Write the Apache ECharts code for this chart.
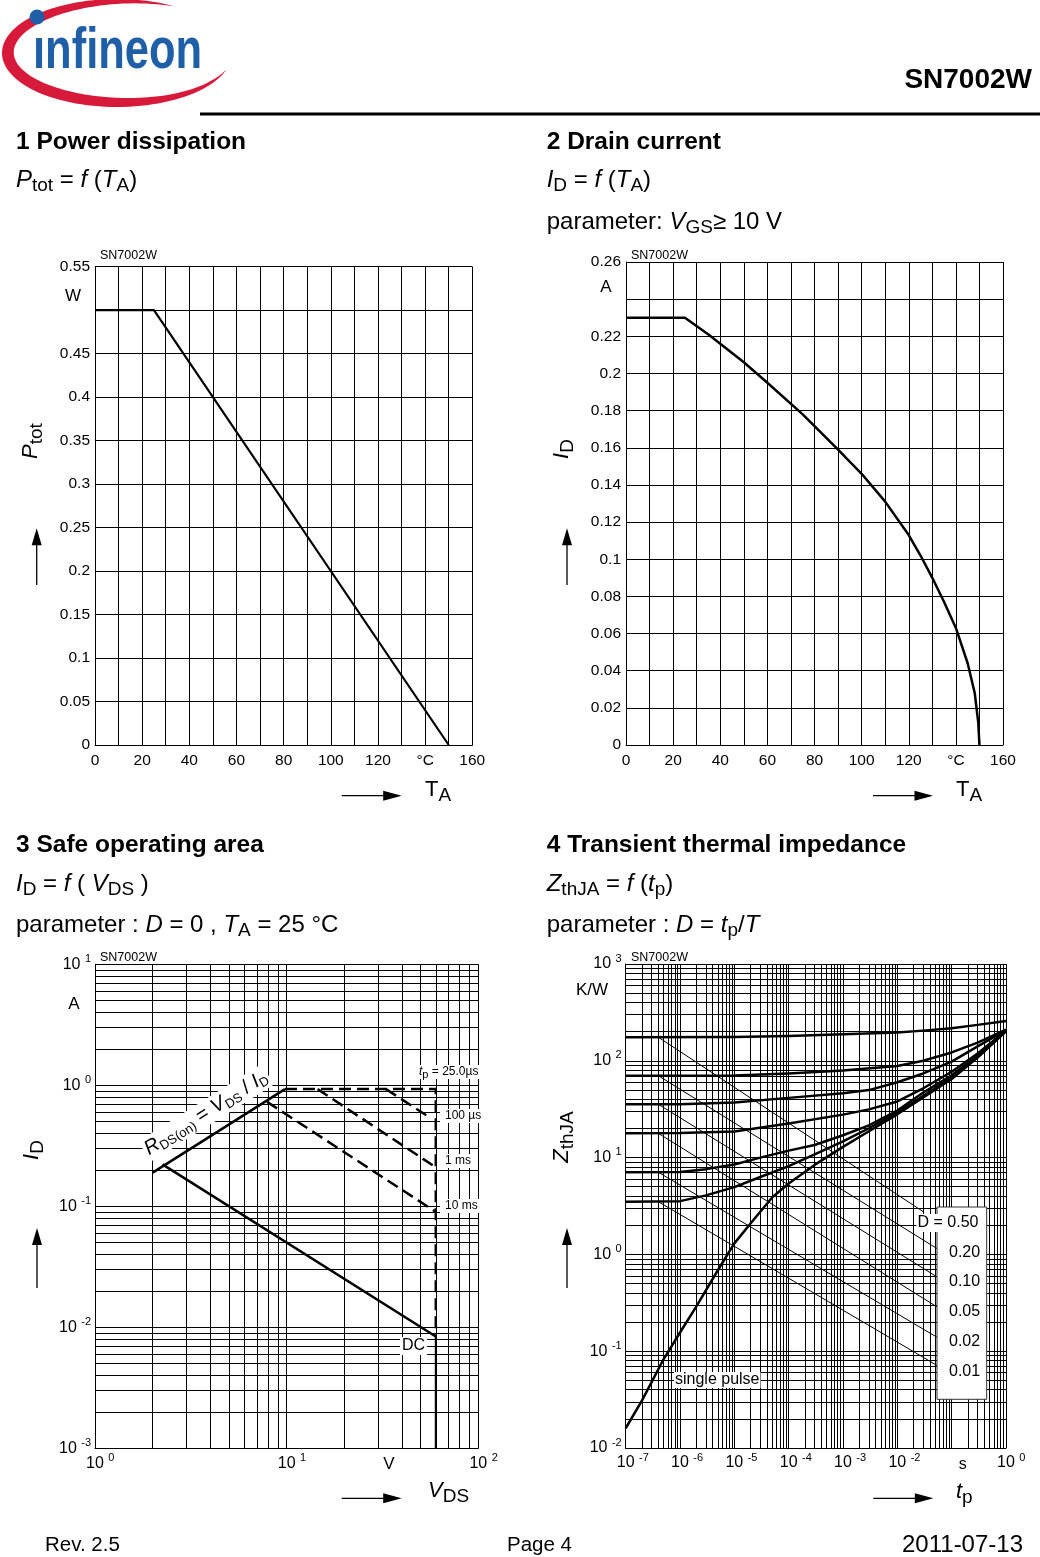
<!DOCTYPE html>
<html><head><meta charset="utf-8">
<script src="https://cdn.jsdelivr.net/npm/echarts@6/dist/echarts.min.js"></script>
<style>html,body{margin:0;padding:0;background:#fff}#c{width:1040px;height:1557px}</style>
</head><body><div id="c"></div>
<script>
const FF = '"Liberation Sans", Arial, Helvetica, sans-serif';

// ---------- data ----------
// 1 Power dissipation  [T_A (°C), P_tot (W)]
const ptotCurve = [[0, 0.5], [25, 0.5], [150, 0]];
// 2 Drain current  [T_A (°C), I_D (A)]
const idCurve = [[0, 0.23], [25, 0.23], [35, 0.221], [50, 0.206], [60, 0.195], [75, 0.178], [90, 0.159],
  [100, 0.146], [110, 0.131], [115, 0.122], [120, 0.113], [125, 0.102], [130, 0.09], [135, 0.077], [140, 0.063], [145, 0.044],
  [148, 0.028], [149.5, 0.012], [150, 0]];
// 3 Safe operating area  [V_DS (V), I_D (A)]
const soaRds = [[2, 0.19], [9.8, 0.93]];
const soaDC = [[2.25, 0.222], [60, 0.0084]];
const soaDCLimit = [[60, 0.0084], [60, 0.001]];
const soa25us = [[9.8, 0.93], [60, 0.93], [60, 0.0084]];
const soa100us = [[33, 0.93], [55, 0.55]];
const soa1ms = [[14.5, 0.93], [60, 0.21]];
const soa10ms = [[7.9, 0.73], [60, 0.09]];
// 4 Transient thermal impedance  [t_p (s), Z_thJA (K/W)]
const zthD050 = [[1e-7, 175], [1e-5, 176.5], [1e-4, 180.7], [1e-3, 187.5], [1e-2, 196], [3e-2, 205], [0.1, 217], [0.3, 235], [1, 258]];
const zthD020 = [[1e-7, 70], [1e-6, 70], [1e-5, 70.5], [1e-4, 73.8], [1e-3, 79.4], [1e-2, 88.5], [3e-2, 100], [0.1, 122], [0.3, 154], [1, 210]];
const zthD010 = [[1e-7, 35.5], [1e-6, 35.6], [1e-5, 37], [1e-4, 41.4], [1e-3, 46.3], [3e-3, 49.8], [1e-2, 60], [3e-2, 74], [0.1, 98], [0.3, 141], [1, 207]];
const zthD005 = [[1e-7, 17.8], [1e-6, 17.9], [1e-5, 18.6], [1e-4, 22.5], [1e-3, 27.8], [3e-3, 31.5], [1e-2, 38], [3e-2, 52], [0.1, 77], [0.3, 119], [1, 205]];
const zthD002 = [[1e-7, 7.05], [1e-6, 7.1], [3e-6, 7.6], [1e-5, 8.5], [3e-5, 10], [1e-4, 11.8], [3e-4, 13.5], [1e-3, 17], [3e-3, 21.5], [1e-2, 30.6], [3e-2, 47], [0.1, 71], [0.3, 113], [1, 204]];
const zthD001 = [[1e-7, 3.5], [1e-6, 3.55], [3e-6, 4.07], [1e-5, 4.95], [3e-5, 6.3], [1e-4, 8.15], [3e-4, 10.8], [1e-3, 14.7], [3e-3, 20.1], [1e-2, 29.2], [3e-2, 43.6], [0.1, 67.6], [0.3, 110], [1, 203]];
const zthSingle = [[1e-7, 0.016], [2e-7, 0.031], [5e-7, 0.083], [1e-6, 0.156], [2e-6, 0.29], [5e-6, 0.69], [1e-5, 1.3], [2e-5, 2.1], [5e-5, 3.9], [1e-4, 5.4], [3e-4, 8.4], [1e-3, 12.9], [3e-3, 18.7], [1e-2, 28], [3e-2, 41.7], [0.1, 65], [0.3, 108], [1, 202]];
// leader lines from the curves to the D labels
const leadD050 = [[4e-7, 175], [0.03, 2.76]];
const leadD020 = [[4e-7, 70], [0.066, 1.07]];
const leadD010 = [[4e-7, 35.5], [0.066, 0.545]];
const leadD005 = [[4e-7, 17.8], [0.066, 0.267]];
const leadD002 = [[4e-7, 7.05], [0.066, 0.13]];
const leadD001 = [[4e-7, 3.5], [0.066, 0.0666]];
const dLabels = ['D = 0.50', '0.20', '0.10', '0.05', '0.02', '0.01'];

// ---------- helpers ----------
const BLACK = '#000';
const lineSt = { color: BLACK, width: 1 };
function linAxis(gi, min, max, interval, minorSplit, fmt, extraLabel) {
  return {
    type: 'value', gridIndex: gi, min: min, max: max, interval: interval,
    axisLine: { show: true, onZero: false, lineStyle: lineSt },
    axisTick: { show: false },
    splitLine: { show: true, lineStyle: lineSt },
    minorTick: { show: false, splitNumber: minorSplit || 5 },
    minorSplitLine: { show: !!minorSplit, lineStyle: lineSt },
    axisLabel: Object.assign({ color: BLACK, fontSize: 15.5, fontFamily: FF, formatter: fmt }, extraLabel)
  };
}
const richLog = {
  b: { fontSize: 16, fontFamily: FF, color: BLACK, lineHeight: 22 },
  s: { fontSize: 11, fontFamily: FF, color: BLACK, lineHeight: 12, verticalAlign: 'top' },
  p1: { width: 10.6, fontSize: 16, lineHeight: 22 },
  p2: { width: 14.2, fontSize: 16, lineHeight: 22 },
  u: { fontSize: 16, fontFamily: FF, color: BLACK, lineHeight: 22, padding: [4, 0, 0, 22] }
};
function expOf(v) { return Math.round(Math.log10(v)); }
function logLabelX(v) {
  const e = expOf(v);
  return '{' + (String(e).length > 1 ? 'p2' : 'p1') + '| }{b|10 }{s|' + e + '}';
}
function logLabelXs(v) {
  const e = expOf(v);
  if (e === -1) return '{u|s}';
  return logLabelX(v);
}
function logLabelY(v) { return '{b|10 }{s|' + expOf(v) + '}'; }
function logAxis(gi, min, max, fmt) {
  return {
    type: 'log', logBase: 10, gridIndex: gi, min: min, max: max, splitNumber: 10,
    axisLine: { show: true, onZero: false, lineStyle: lineSt },
    axisTick: { show: false },
    splitLine: { show: true, lineStyle: lineSt },
    minorTick: { show: false, splitNumber: 9 },
    minorSplitLine: { show: true, lineStyle: lineSt },
    axisLabel: { formatter: fmt, rich: richLog, margin: 4 }
  };
}
function ser(xi, data, width, dash, z) {
  return {
    type: 'line', xAxisIndex: xi, yAxisIndex: xi, data: data, symbol: 'none', showSymbol: false,
    silent: true, animation: false, z: z || 5,
    lineStyle: { color: BLACK, width: width, type: dash || 'solid', join: 'round' }
  };
}
function dec2(v) { return String(+(+v).toFixed(2)); }

// ---------- graphic helpers ----------
function T(x, y, text, st, extra) {
  return Object.assign({
    type: 'text', x: x, y: y, z: 100, silent: true,
    style: Object.assign({ text: text, fill: BLACK, fontFamily: FF, fontSize: 16, align: 'left', verticalAlign: 'middle' }, st)
  }, extra || {});
}
const RT = {
  n: { fontSize: 24, fontFamily: FF, fill: BLACK, lineHeight: 28 },
  i: { fontSize: 24, fontFamily: FF, fill: BLACK, fontStyle: 'italic', lineHeight: 28 },
  s: { fontSize: 19, fontFamily: FF, fill: BLACK, lineHeight: 28, padding: [11, 0, 0, 0] }
};
const RA = {
  n: { fontSize: 22, fontFamily: FF, fill: BLACK, lineHeight: 26 },
  i: { fontSize: 22, fontFamily: FF, fill: BLACK, fontStyle: 'italic', lineHeight: 26 },
  s: { fontSize: 19, fontFamily: FF, fill: BLACK, lineHeight: 26, padding: [11, 0, 0, 0] }
};
const RS = {
  n: { fontSize: 12, fontFamily: FF, fill: BLACK, lineHeight: 14 },
  i: { fontSize: 12, fontFamily: FF, fill: BLACK, fontStyle: 'italic', lineHeight: 14 },
  s: { fontSize: 11, fontFamily: FF, fill: BLACK, lineHeight: 14, padding: [6, 0, 0, 0] }
};
const RR = {
  n: { fontSize: 20, fontFamily: FF, fill: BLACK, lineHeight: 24 },
  i: { fontSize: 20, fontFamily: FF, fill: BLACK, fontStyle: 'italic', lineHeight: 24 },
  s: { fontSize: 13, fontFamily: FF, fill: BLACK, lineHeight: 24, padding: [10, 0, 0, 0] }
};
function hArrow(x1, x2, y) {
  return [
    { type: 'line', z: 100, silent: true, shape: { x1: x1, y1: y, x2: x2 - 10, y2: y }, style: { stroke: BLACK, lineWidth: 1.3 } },
    { type: 'polygon', z: 100, silent: true, shape: { points: [[x2 - 18.5, y - 5], [x2, y], [x2 - 18.5, y + 5]] }, style: { fill: BLACK } }
  ];
}
function vArrow(x, y1, y2) { // y1 bottom, y2 tip
  return [
    { type: 'line', z: 100, silent: true, shape: { x1: x, y1: y1, x2: x, y2: y2 + 10 }, style: { stroke: BLACK, lineWidth: 1.3 } },
    { type: 'polygon', z: 100, silent: true, shape: { points: [[x - 5, y2 + 17], [x, y2], [x + 5, y2 + 17]] }, style: { fill: BLACK } }
  ];
}
// logo swoosh outline (crescent around the word mark)
function swoosh() {
  const cx = 117, cy = 53, rx = 115, ry = 54;
  const t0 = 60, t1 = 342, outer = [], inner = [];
  for (let a = t0; a <= t1; a += 3) {
    const t = a * Math.PI / 180;
    const w = 12 * Math.pow(Math.sin(Math.PI * (a - t0) / (t1 - t0)), 0.8);
    outer.push([cx + rx * Math.cos(t), cy - ry * Math.sin(t)]);
    inner.push([cx + (rx - w) * Math.cos(t), cy - (ry - w) * Math.sin(t)]);
  }
  return outer.concat(inner.reverse());
}

const graphics = [
  // logo
  { type: 'polygon', z: 90, silent: true, shape: { points: swoosh() }, style: { fill: '#d7193a' } },
  T(33, 52, 'ınfineon', { fill: '#1f5fa8', fontSize: 58, fontWeight: 'bold' }, { scaleX: 0.75 }),
  { type: 'circle', z: 101, silent: true, shape: { cx: 37, cy: 17, r: 7.5 }, style: { fill: '#1f5fa8' } },
  T(1032, 80, 'SN7002W', { fontSize: 28, fontWeight: 'bold', align: 'right' }),
  { type: 'line', z: 100, silent: true, shape: { x1: 200, y1: 114, x2: 1040, y2: 114 }, style: { stroke: BLACK, lineWidth: 3 } },

  // titles
  T(16, 142, '1 Power dissipation', { fontSize: 24.5, fontWeight: 'bold' }),
  T(16, 180, '{i|P}{s|tot}{n| = }{i|f}{n| (}{i|T}{s|A}{n|)}', { rich: RT }),
  T(546.7, 142, '2 Drain current', { fontSize: 24.5, fontWeight: 'bold' }),
  T(546.7, 180, '{i|I}{s|D}{n| = }{i|f}{n| (}{i|T}{s|A}{n|)}', { rich: RT }),
  T(546.7, 222, '{n|parameter: }{i|V}{s|GS}{n|≥ 10 V}', { rich: RT }),
  T(16, 845, '3 Safe operating area', { fontSize: 24.5, fontWeight: 'bold' }),
  T(16, 884, '{i|I}{s|D}{n| = }{i|f}{n| ( }{i|V}{s|DS}{n| )}', { rich: RT }),
  T(16, 925, '{n|parameter : }{i|D}{n| = 0 , }{i|T}{s|A}{n| = 25 °C}', { rich: RT }),
  T(546.7, 845, '4 Transient thermal impedance', { fontSize: 24.5, fontWeight: 'bold' }),
  T(546.7, 884, '{i|Z}{s|thJA}{n| = }{i|f}{n| (}{i|t}{s|p}{n|)}', { rich: RT }),
  T(546.7, 925, '{n|parameter : }{i|D}{n| = }{i|t}{s|p}{n|/}{i|T}', { rich: RT }),

  // small part labels
  T(100, 256, 'SN7002W', { fontSize: 12.5 }),
  T(631, 256, 'SN7002W', { fontSize: 12.5 }),
  T(100, 958, 'SN7002W', { fontSize: 12.5 }),
  T(631, 958, 'SN7002W', { fontSize: 12.5 }),

  // units
  T(73, 296.5, 'W', { fontSize: 17, align: 'center' }),
  T(606, 287, 'A', { fontSize: 17, align: 'center' }),
  T(74, 1004, 'A', { fontSize: 17, align: 'center' }),
  T(592, 990, 'K/W', { fontSize: 17, align: 'center' }),
  T(389, 1464, 'V', { fontSize: 17, align: 'center' }),

  // axis names
  T(425, 790, '{n|T}{s|A}', { rich: RA }),
  T(956, 790, '{n|T}{s|A}', { rich: RA }),
  T(428, 1491, '{i|V}{s|DS}', { rich: RA }),
  T(956, 1492, '{i|t}{s|p}', { rich: RA }),
  T(31, 441, '{i|P}{s|tot}', { rich: RA, align: 'center' }, { rotation: Math.PI / 2 }),
  T(562, 449, '{i|I}{s|D}', { rich: RA, align: 'center' }, { rotation: Math.PI / 2 }),
  T(32, 1150, '{i|I}{s|D}', { rich: RA, align: 'center' }, { rotation: Math.PI / 2 }),
  T(562, 1137, '{i|Z}{s|thJA}', { rich: RA, align: 'center' }, { rotation: Math.PI / 2 }),

  // SOA annotations
  T(418, 1072, '{i|t}{s|p}{n| = 25.0µs}', { rich: RS, backgroundColor: '#fff', padding: [0, 1] }),
  T(440, 1116, '100 µs', { fontSize: 12, backgroundColor: '#fff', padding: [1, 3, 1, 5] }),
  T(440, 1161, '1 ms', { fontSize: 12, backgroundColor: '#fff', padding: [1, 3, 1, 5] }),
  T(440, 1206, '10 ms', { fontSize: 12, backgroundColor: '#fff', padding: [1, 3, 1, 5] }),
  T(400, 1346, 'DC', { fontSize: 16, backgroundColor: '#fff', padding: [1, 2] }),
  T(206, 1113, '{i|R}{s|DS(on)}{n| = }{i|V}{s|DS}{n| / }{i|I}{s|D}', { rich: RR, align: 'center', backgroundColor: '#fff', padding: [0, 2] }, { rotation: 0.56 }),

  // Zth legend box + labels
  { type: 'rect', z: 99, silent: true, shape: { x: 937, y: 1207, width: 49.7, height: 192.3 }, style: { fill: '#fff', stroke: '#333', lineWidth: 1 } },
  T(916.5, 1223, dLabels[0], { fontSize: 16, backgroundColor: '#fff', padding: [1, 1] }),
  T(949, 1253, dLabels[1], { fontSize: 16 }),
  T(949, 1282, dLabels[2], { fontSize: 16 }),
  T(949, 1312, dLabels[3], { fontSize: 16 }),
  T(949, 1341.5, dLabels[4], { fontSize: 16 }),
  T(949, 1371.5, dLabels[5], { fontSize: 16 }),
  T(674, 1380, 'single pulse', { fontSize: 16, backgroundColor: '#fff', padding: [0, 1] }),

  // footer
  T(45, 1545, 'Rev. 2.5', { fontSize: 20.5 }),
  T(507, 1545, 'Page 4', { fontSize: 20.5 }),
  T(1023, 1545, '2011-07-13', { fontSize: 24, align: 'right' })
].concat(
  hArrow(341.7, 401.7, 795.7), hArrow(873, 933, 795.7),
  hArrow(341.7, 401.7, 1498.3), hArrow(873.3, 933.3, 1498.3),
  vArrow(36.7, 585, 528.3), vArrow(567, 585, 528.3),
  vArrow(37, 1288, 1228), vArrow(567, 1288, 1228)
);

const option = {
  backgroundColor: '#fff',
  animation: false,
  grid: [
    { left: 95, top: 266.7, width: 377.3, height: 478.3 },
    { left: 626, top: 262, width: 377, height: 483 },
    { left: 95, top: 964.3, width: 383.3, height: 484 },
    { left: 625.7, top: 964, width: 380.3, height: 484 }
  ],
  xAxis: [
    linAxis(0, 0, 160, 20, 2, v => v === 140 ? '°C' : String(v), { margin: 8 }),
    linAxis(1, 0, 160, 20, 2, v => v === 140 ? '°C' : String(v), { margin: 8 }),
    logAxis(2, 1, 100, logLabelX),
    logAxis(3, 1e-7, 1, logLabelXs)
  ],
  yAxis: [
    linAxis(0, 0, 0.55, 0.05, 0, v => Math.abs(v - 0.5) < 1e-9 ? '' : dec2(v), { margin: 5, padding: [6, 0, 0, 0] }),
    linAxis(1, 0, 0.26, 0.02, 0, v => Math.abs(v - 0.24) < 1e-9 ? '' : dec2(v), { margin: 5, padding: [6, 0, 0, 0] }),
    logAxis(2, 0.001, 10, logLabelY),
    logAxis(3, 0.01, 1000, logLabelY)
  ],
  series: [
    ser(0, ptotCurve, 2.2),
    ser(1, idCurve, 2.5),
    ser(2, soaRds, 2.5),
    ser(2, soaDC, 2.5),
    ser(2, soaDCLimit, 2),
    ser(2, soa25us, 2.5, [12, 6]),
    ser(2, soa100us, 2.5, [12, 6]),
    ser(2, soa1ms, 2.5, [12, 6]),
    ser(2, soa10ms, 2.5, [12, 6]),
    ser(3, zthD050, 2.5), ser(3, zthD020, 2.5), ser(3, zthD010, 2.5),
    ser(3, zthD005, 2.5), ser(3, zthD002, 2.5), ser(3, zthD001, 2.5),
    ser(3, zthSingle, 2.5),
    ser(3, leadD050, 1), ser(3, leadD020, 1), ser(3, leadD010, 1),
    ser(3, leadD005, 1), ser(3, leadD002, 1), ser(3, leadD001, 1)
  ],
  graphic: { elements: graphics }
};
const chart = echarts.init(document.getElementById('c'), null, { renderer: 'canvas' });
chart.setOption(option);
</script></body></html>
